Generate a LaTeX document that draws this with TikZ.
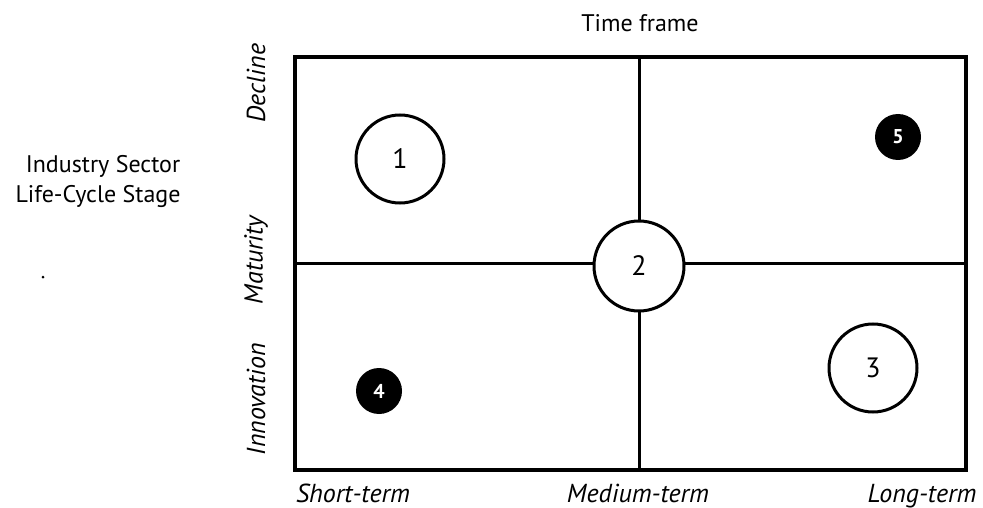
\documentclass[tikz,border=0pt]{standalone}
\usepackage{fontspec}
\setmainfont{PT Sans}
\begin{document}
\begin{tikzpicture}[x=1pt,y=-1pt,
  lbl/.style={font=\fontsize{24}{28}\selectfont, inner sep=0pt, anchor=base},
  axlbl/.style={font=\fontsize{26}{30}\selectfont\itshape, inner sep=0pt},
  open/.style={circle, draw=black, line width=3pt, fill=white, inner sep=0pt, font=\fontsize{28}{32}\selectfont},
  solid/.style={circle, fill=black, text=white, inner sep=0pt, font=\fontsize{20}{24}\selectfont\bfseries, minimum size=46pt}]
\useasboundingbox (0,0) rectangle (983,508);
% grid
\coordinate (tl) at (295,57);
\coordinate (br) at (966,470);
\coordinate (mt) at (639,57);
\coordinate (mb) at (639,470);
\coordinate (ml) at (295,263);
\coordinate (mr) at (966,263);
\draw[line width=3pt] (mt) -- (mb);
\draw[line width=3pt] (ml) -- (mr);
\draw[line width=3.4pt] (tl) rectangle (br);
% circles
\node[open, minimum size=88pt] (c1) at (400,159) {1};
\node[open, minimum size=90pt] (c2) at (639,266) {2};
\node[open, minimum size=88pt] (c3) at (873,368) {3};
\node[solid] (c4) at (379,391) {4};
\node[solid] (c5) at (898,137) {5};
% labels
\node[lbl] (title) at (640,32) {Time frame};
\node[lbl] (ind1) at (103,172) {Industry Sector};
\node[lbl] (ind2) at (98,203) {Life-Cycle Stage};
\fill (43,277) circle (1.5pt);
\node[axlbl, rotate=90] (dec) at (256,83) {Decline};
\node[axlbl, rotate=90] (mat) at (256,260) {Maturity};
\node[axlbl, rotate=90] (inn) at (256,399) {Innovation};
\node[axlbl, anchor=base] (st) at (353,502) {Short-term};
\node[axlbl, anchor=base] (mdt) at (638,502) {Medium-term};
\node[axlbl, anchor=base] (lt) at (922,502) {Long-term};
\end{tikzpicture}
\end{document}
